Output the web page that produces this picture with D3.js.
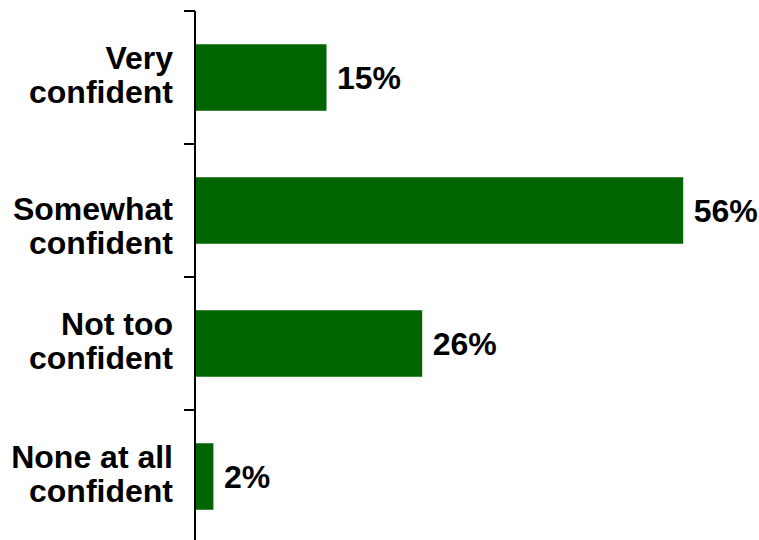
<!DOCTYPE html>
<html>
<head>
<meta charset="utf-8">
<script src="https://cdn.jsdelivr.net/npm/d3@7/dist/d3.min.js"></script>
<style>
  html, body { margin: 0; padding: 0; background: #fff; }
  svg { display: block; }
  text { font-family: "Liberation Sans", Arial, sans-serif; font-weight: bold; fill: #000; }
</style>
</head>
<body>
<svg id="chart" width="759" height="540"></svg>
<script>
const categories = ["Very confident", "Somewhat confident", "Not too confident", "None at all confident"];
const labelLines = [["Very", "confident"], ["Somewhat", "confident"], ["Not too", "confident"], ["None at all", "confident"]];
const values = [15, 56, 26, 2];
const valueLabels = ["15%", "56%", "26%", "2%"];

const svg = d3.select("#chart");
const x0 = 196;
const x = d3.scaleLinear().domain([0, 60]).range([x0, x0 + 60 * 8.7]);
const y = d3.scaleBand().domain(categories).range([11, 543]).paddingInner(0.5).paddingOuter(0.25);

const fontSize = 32;

// bars
svg.selectAll("rect.bar").data(categories).enter().append("rect")
  .attr("class", "bar")
  .attr("x", x(0))
  .attr("y", d => y(d))
  .attr("width", (d, i) => x(values[i]) - x(0))
  .attr("height", y.bandwidth())
  .attr("fill", "#006400");

// axis line
const axisX = 195;
svg.append("line")
  .attr("x1", axisX).attr("x2", axisX)
  .attr("y1", y.range()[0]).attr("y2", y.range()[1])
  .attr("stroke", "#000").attr("stroke-width", 2);

// ticks at band boundaries
const boundaries = [y.range()[0]].concat(categories.slice(1).map(c => y(c) - y.step() * y.paddingInner() / 2));
boundaries.push(y.range()[1]);
svg.selectAll("line.tick").data(boundaries).enter().append("line")
  .attr("class", "tick")
  .attr("x1", axisX - 11).attr("x2", axisX)
  .attr("y1", d => d).attr("y2", d => d)
  .attr("stroke", "#000").attr("stroke-width", 2);

// category labels (the "Somewhat" label sits lower in the original)
const labelShift = i => (i === 1 ? 18 : 0);
const lab = svg.selectAll("text.cat").data(categories).enter().append("text")
  .attr("class", "cat")
  .attr("text-anchor", "end")
  .style("font-size", fontSize + "px")
  .attr("x", 173)
  .attr("y", (d, i) => y(d) + y.bandwidth() / 2 + labelShift(i));
lab.each(function(d, i) {
  const t = d3.select(this);
  labelLines[i].forEach((ln, j) => {
    t.append("tspan").attr("x", 173)
      .attr("dy", j === 0 ? "-0.28em" : "1.08em")
      .text(ln);
  });
});

// value labels
svg.selectAll("text.val").data(categories).enter().append("text")
  .attr("class", "val")
  .style("font-size", fontSize + "px")
  .attr("x", (d, i) => x(values[i]) + 10.5)
  .attr("y", d => y(d) + y.bandwidth() / 2)
  .attr("dy", "0.36em")
  .text((d, i) => valueLabels[i]);
</script>
</body>
</html>
